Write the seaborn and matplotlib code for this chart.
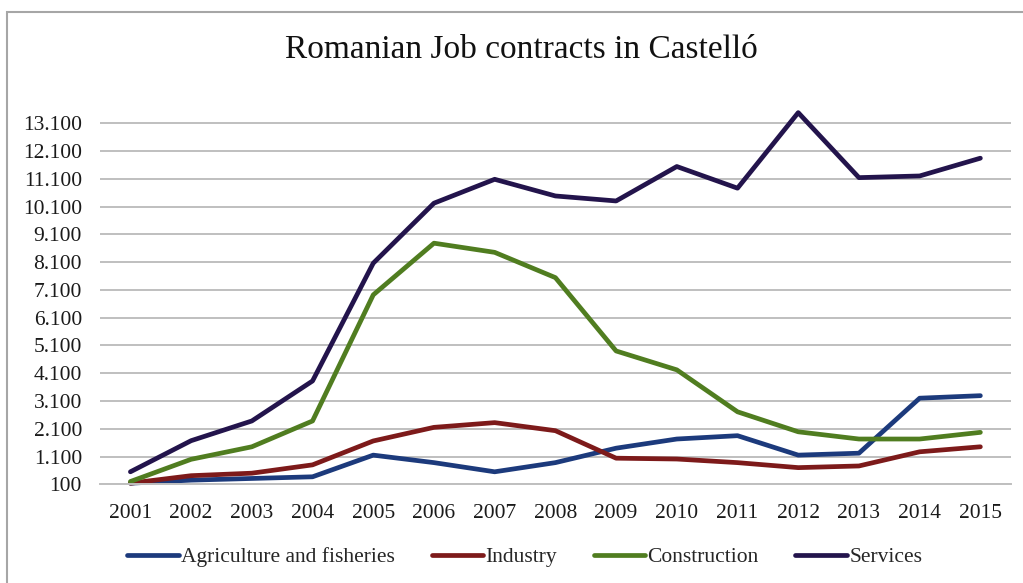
import matplotlib
matplotlib.use("Agg")
import matplotlib.pyplot as plt
import matplotlib.ticker as mticker
from matplotlib.patches import Rectangle
import seaborn as sns
import pandas as pd
import numpy as np

# Datos
years = [str(y) for y in range(2001, 2016)]
agriculture = [140, 250, 310, 370, 1150, 880, 550, 880, 1400, 1730, 1850, 1150, 1220, 3200, 3290]
industry = [140, 410, 500, 800, 1660, 2150, 2320, 2030, 1040, 1010, 880, 700, 760, 1270, 1450]
construction = [200, 1000, 1450, 2380, 6920, 8780, 8450, 7540, 4900, 4220, 2710, 1990, 1730, 1730, 1970]
services = [550, 1670, 2380, 3820, 8060, 10220, 11080, 10480, 10300, 11540, 10760, 13480, 11140, 11200, 11840]

series_names = ["Agriculture and fisheries", "Industry", "Construction", "Services"]
colors = ["#1C3A7C", "#7D1A1A", "#507D20", "#23144C"]

df = pd.DataFrame({
    "year": years * 4,
    "value": agriculture + industry + construction + services,
    "sector": np.repeat(series_names, len(years)),
})

sns.set_style("white")
plt.rcParams["font.family"] = ["Liberation Serif", "DejaVu Serif"]

fig = plt.figure(figsize=(10.23, 5.83), dpi=100)
ax = fig.add_axes([0.0978, 0.1693, 0.8902, 0.648])

sns.lineplot(data=df, x="year", y="value", hue="sector", palette=colors,
             linewidth=3.4, ax=ax, sort=False, clip_on=False)

ax.set_xlim(-0.5, 14.5)
ax.set_ylim(100, 13700)
ax.set_yticks(np.arange(100, 13101, 1000))
ax.yaxis.set_major_formatter(mticker.FuncFormatter(lambda v, p: f"{int(v):,}".replace(",", ".")))
ax.grid(axis="y", color="#BFBFBF", linewidth=1.4)
ax.set_axisbelow(True)
for s in ["top", "right", "left"]:
    ax.spines[s].set_visible(False)
ax.spines["bottom"].set_color("#BFBFBF")
ax.spines["bottom"].set_linewidth(1.4)
ax.tick_params(axis="y", length=0, pad=13, labelsize=15.5, labelcolor="#1A1A1A")
ax.tick_params(axis="x", length=0, pad=14, labelsize=15.5, labelcolor="#1A1A1A")
ax.set_xlabel("")
ax.set_ylabel("")

fig.text(0.51, 0.915, "Romanian Job contracts in Castelló", ha="center", va="center",
         fontsize=24, color="#111111")

handles, labels = ax.get_legend_handles_labels()
ax.legend_.remove()
fig.legend(handles, labels, loc="center", bbox_to_anchor=(0.513, 0.044), ncol=4,
           frameon=False, fontsize=15.5, handlelength=2.4, handletextpad=0.1,
           columnspacing=1.7)

# Marco del área del gráfico
fig.patches.append(Rectangle((7 / 1023, -0.1), 1.2, 1 - 12 / 583 + 0.1,
                             transform=fig.transFigure, fill=False,
                             edgecolor="#A6A6A6", linewidth=1.5))

fig.savefig("out.png", dpi=100)
